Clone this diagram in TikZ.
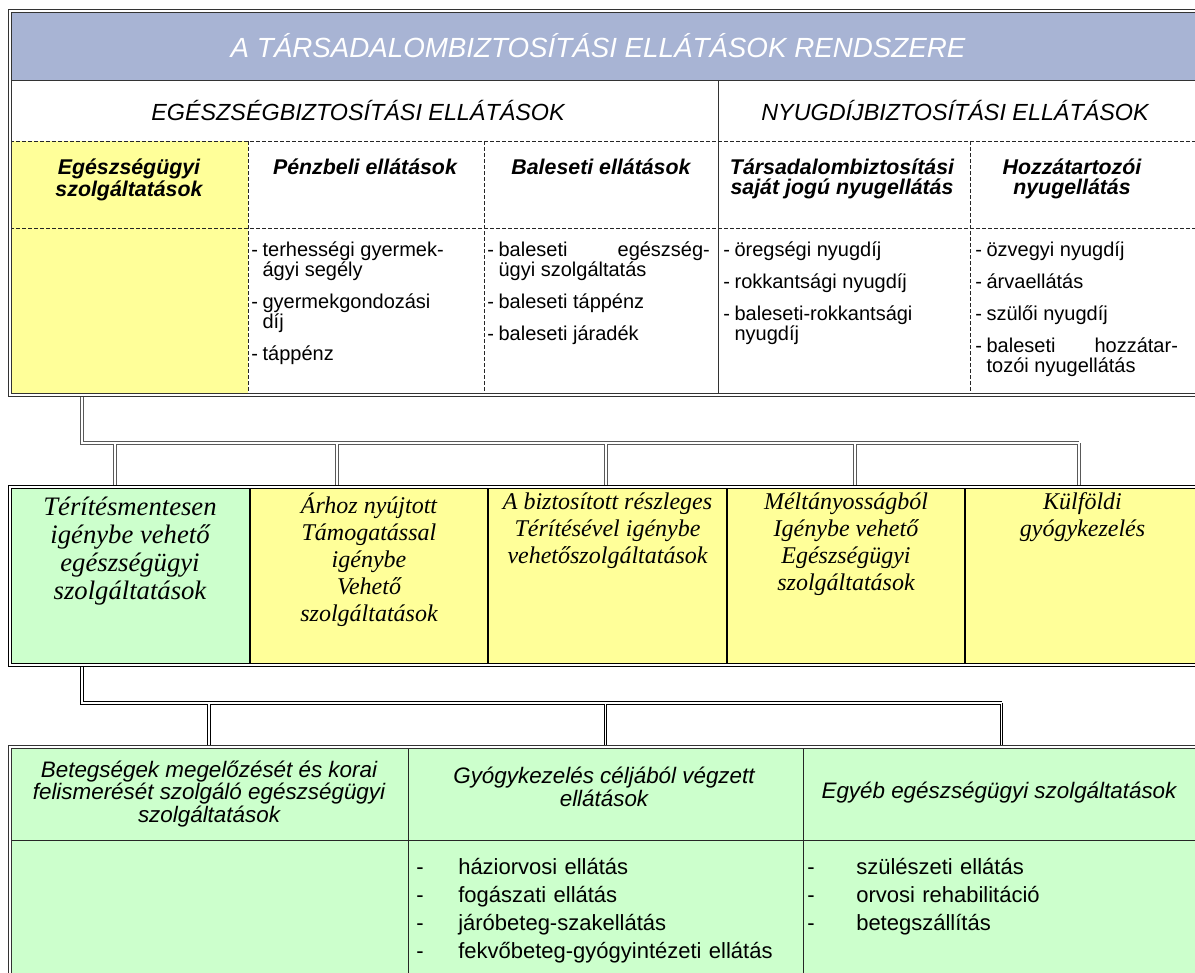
\documentclass[tikz,border=0pt]{standalone}
\usepackage{fontspec}
\setmainfont{Liberation Sans}
\newfontfamily\tnr{Liberation Serif}
\usetikzlibrary{positioning,fit}

\definecolor{headblue}{RGB}{168,180,212}
\definecolor{paleyellow}{RGB}{255,255,153}
\definecolor{palegreen}{RGB}{204,255,204}

\newcommand{\ditem}[1]{\par\noindent\hangindent=8.5pt\hangafter=1\makebox[8.5pt][l]{-}#1\par\vspace{9pt}}
\newcommand{\bitem}[2][31.5pt]{\par\noindent\makebox[#1][l]{-}#2\par}

\tikzset{
  cell/.style     = {inner sep=0, outer sep=0},
  frame/.style    = {draw=black!80, double=white, double distance=1.3pt, line width=.8pt},
  link/.style     = {draw=black!65, double=white, double distance=1.4pt, line width=.7pt},
  dashline/.style = {draw=black!85, line width=.5pt, dash pattern=on 3pt off 1.5pt},
  headtxt/.style  = {text=white, font=\fontsize{20.8}{24}\selectfont\itshape},
  grptxt/.style   = {font=\fontsize{17.5}{20}\selectfont\itshape},
  coltxt/.style   = {align=center, inner sep=0, anchor=north,
                     font=\fontsize{16}{15}\selectfont\bfseries\itshape},
  listtxt/.style  = {inner sep=0, anchor=north west, align=justify,
                     font=\fontsize{15}{15}\selectfont},
  midtxt/.style   = {align=center, inner sep=0, font=\tnr\itshape\fontsize{18}{20.25}\selectfont},
  bigmid/.style   = {midtxt, font=\tnr\itshape\fontsize{20}{21}\selectfont},
  bothead/.style  = {align=center, inner sep=0, font=\fontsize{16.8}{15.75}\selectfont\itshape},
  botlist/.style  = {inner sep=0, anchor=north west, align=left, text width=285pt,
                     font=\fontsize{16.5}{21}\selectfont}
}

\begin{document}
\begin{tikzpicture}[x=0.75pt, y=-0.75pt]
\useasboundingbox (0,0) rectangle (1195,972);
\clip (0,0) rectangle (1195,972);

% top table
\node[cell, fill=headblue, fit={(10,11) (1200,80)}] (head) {};
\node[cell, fill=paleyellow, fit={(10,141) (248,395)}] (egy) {};
\node[cell, fit={(10,11) (1200,395)}] (tbl) {};
\draw[black!80, line width=.6pt] (head.south west) -- (head.south east) (718,80) -- (718,0 |- tbl.south);
\draw[dashline] (10,141) -- (1200,141) (10,228) -- (1200,228);
\foreach \x in {248,484,970}
  \draw[dashline] (\x,141) -- (\x,395);

\node[headtxt] (title) at (598,46) {A TÁRSADALOMBIZTOSÍTÁSI ELLÁTÁSOK RENDSZERE};
\node[grptxt] (eb) at (358,110) {EGÉSZSÉGBIZTOSÍTÁSI ELLÁTÁSOK};
\node[grptxt] (nyb) at (955,110) {NYUGDÍJBIZTOSÍTÁSI ELLÁTÁSOK};

\node[coltxt] (c1) at (129,159) {Egészségügyi\\szolgáltatások};
\node[coltxt] (c2) at (365,159) {Pénzbeli ellátások};
\node[coltxt] (c3) at (601,159) {Baleseti ellátások};
\node[coltxt] (c4) at (842,159) {Társadalombiztosítási\\saját jogú nyugellátás};
\node[coltxt] (c5) at (1072,159) {Hozzátartozói\\nyugellátás};

\node[listtxt, text width=172pt] (l2) at (251,236)
  {\ditem{terhességi gyermek-\\ágyi segély}\ditem{gyermekgondozási\\díj}\ditem{táppénz}};
\node[listtxt, text width=167pt] (l3) at (487,236)
  {\ditem{baleseti egészség-\linebreak ügyi szolgáltatás}\ditem{baleseti táppénz}\ditem{baleseti járadék}};
\node[listtxt, text width=180pt] (l4) at (723,236)
  {\ditem{öregségi nyugdíj}\ditem{rokkantsági nyugdíj}\ditem{baleseti-rokkantsági\\nyugdíj}};
\node[listtxt, text width=152pt] (l5) at (975,236)
  {\ditem{özvegyi nyugdíj}\ditem{árvaellátás}\ditem{szülői nyugdíj}\ditem{baleseti hozzátar-\linebreak tozói nyugellátás}};

% middle row
\foreach \i/\a/\b/\c in {1/10/250/palegreen,2/250/488/paleyellow,3/488/727/paleyellow,4/727/965/paleyellow,5/965/1200/paleyellow}
  \node[cell, fill=\c, fit={(\a,487) (\b,665)}] (m\i) {};
\node[cell, fit={(10,487) (1200,665)}] (mid) {};
\foreach \i in {1,...,4}
  \draw[line width=1.6pt] (m\i.north east) -- (m\i.south east);

\node[bigmid, below=7pt of m1.north] (t1) {Térítésmentesen\\igénybe vehető\\egészségügyi\\szolgáltatások};
\node[midtxt, below=4pt of m2.north] (t2) {Árhoz nyújtott\\Támogatással\\igénybe\\Vehető\\szolgáltatások};
\node[midtxt, below=4pt of m3.north] (t3) {A biztosított részleges\\Térítésével igénybe\\vehetőszolgáltatások};
\node[midtxt, below=4pt of m4.north] (t4) {Méltányosságból\\Igénybe vehető\\Egészségügyi\\szolgáltatások};
\node[midtxt, below=4pt of m5.north] (t5) {Külföldi\\gyógykezelés};

% bottom table
\foreach \i/\a/\b in {1/10/408,2/408/803,3/803/1200}
  \node[cell, fill=palegreen, fit={(\a,747) (\b,980)}] (b\i) {};
\node[cell, fit={(10,747) (1200,980)}] (btm) {};
\draw[black!85, line width=.6pt] (10,840) -- (1200,840)
  (b1.north east) -- (b1.south east) (b2.north east) -- (b2.south east);

\node[bothead] (h1) at (209,794) {Betegségek megelőzését és korai\\felismerését szolgáló egészségügyi\\szolgáltatások};
\node[bothead] (h2) at (604,787) {Gyógykezelés céljából végzett\\ellátások};
\node[bothead] (h3) at (999,793) {Egyéb egészségügyi szolgáltatások};

\node[botlist] (bl2) at (416,846)
  {\bitem{háziorvosi ellátás}\bitem{fogászati ellátás}\bitem{járóbeteg-szakellátás}\bitem{fekvőbeteg-gyógyintézeti ellátás}};
\node[botlist] (bl3) at (807,846)
  {\bitem[36.75pt]{szülészeti ellátás}\bitem[36.75pt]{orvosi rehabilitáció}\bitem[36.75pt]{betegszállítás}};

% connectors
\coordinate (busA) at (82,443);
\coordinate (busB) at (82,703);
\draw[link] (busA |- tbl.south) -- (busA) -- (1079,443)
  \foreach \x/\m in {115/m1,337/m2,606/m3,855/m4,1079/m5} {(\x,443) -- (\x,443 |- \m.north)};
\draw[link, draw=black] (busB |- mid.south) -- (busB) -- (busB -| b3.north)
  \foreach \b in {b1,b2,b3} {(busB -| \b.north) -- (\b.north)};

\draw[frame] (tbl.north west) rectangle (tbl.south east);
\draw[frame, draw=black] (mid.north west) rectangle (mid.south east);
\draw[frame] (btm.north west) rectangle (btm.south east);
\end{tikzpicture}
\end{document}
